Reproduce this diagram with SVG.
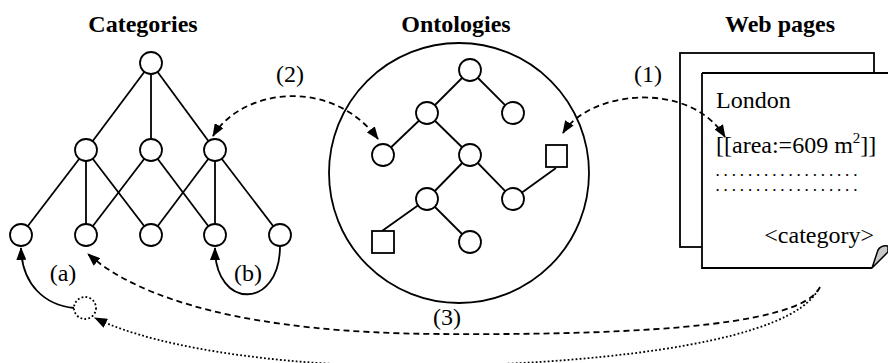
<svg xmlns="http://www.w3.org/2000/svg" width="888" height="363" viewBox="0 0 888 363">
<style>
text{font-family:"Liberation Serif","Times New Roman",serif;fill:#000}
.t{font-size:24px;font-weight:bold;text-anchor:middle}
.l{font-size:24px}
.dots{font-size:13px;font-weight:bold;letter-spacing:4.85px}
.n{fill:#fff;stroke:#000;stroke-width:1.8}
.e{stroke:#000;stroke-width:1.8;fill:none}
.c{fill:none;stroke:#000;stroke-width:1.8}
.dash{stroke-dasharray:6 4}
.dot{stroke-dasharray:1.8 2.2}
</style>
<defs>
<marker id="ah" viewBox="0 0 13 10" refX="12" refY="5" markerWidth="13" markerHeight="10" markerUnits="userSpaceOnUse" orient="auto-start-reverse">
<path d="M0,0 L13,5 L0,10 z" fill="#000"/>
</marker>
</defs>
<rect width="888" height="363" fill="#fff"/>
<text class="t" x="143" y="32">Categories</text>
<text class="t" x="456" y="32">Ontologies</text>
<text class="t" x="780" y="32">Web pages</text>

<g id="categories">
<g class="e">
<line x1="151" y1="63" x2="86" y2="150"/>
<line x1="151" y1="63" x2="151" y2="150"/>
<line x1="151" y1="63" x2="215" y2="150"/>
<line x1="86" y1="150" x2="21" y2="235"/>
<line x1="86" y1="150" x2="86" y2="235"/>
<line x1="86" y1="150" x2="151" y2="235"/>
<line x1="151" y1="150" x2="86" y2="235"/>
<line x1="151" y1="150" x2="215" y2="235"/>
<line x1="215" y1="150" x2="151" y2="235"/>
<line x1="215" y1="150" x2="215" y2="235"/>
<line x1="215" y1="150" x2="280" y2="235"/>
</g>
<g id="cat-top"><circle class="n" cx="151" cy="63" r="11"/></g>
<g id="cat-m1"><circle class="n" cx="86" cy="150" r="11"/></g>
<g id="cat-m2"><circle class="n" cx="151" cy="150" r="11"/></g>
<g id="cat-m3"><circle class="n" cx="215" cy="150" r="11"/></g>
<g id="cat-b1"><circle class="n" cx="21" cy="235" r="11"/></g>
<g id="cat-b2"><circle class="n" cx="86" cy="235" r="11"/></g>
<g id="cat-b3"><circle class="n" cx="151" cy="235" r="11"/></g>
<g id="cat-b4"><circle class="n" cx="215" cy="235" r="11"/></g>
<g id="cat-b5"><circle class="n" cx="280" cy="235" r="11"/></g>
<g id="cat-new"><circle cx="85" cy="308" r="11" fill="none" stroke="#000" stroke-width="1.8" class="dot"/></g>
</g>

<g id="ontologies">
<circle cx="459" cy="173" r="130" fill="none" stroke="#000" stroke-width="1.8"/>
<g class="e">
<line x1="470" y1="70" x2="427" y2="113"/>
<line x1="470" y1="70" x2="513" y2="113"/>
<line x1="427" y1="113" x2="383" y2="155"/>
<line x1="427" y1="113" x2="470" y2="155"/>
<line x1="470" y1="155" x2="427" y2="199"/>
<line x1="470" y1="155" x2="513" y2="199"/>
<line x1="513" y1="199" x2="556" y2="168"/>
<line x1="427" y1="199" x2="382" y2="231"/>
<line x1="427" y1="199" x2="470" y2="242"/>
</g>
<g id="ont-1"><circle class="n" cx="470" cy="70" r="11"/></g>
<g id="ont-2"><circle class="n" cx="427" cy="113" r="11"/></g>
<g id="ont-3"><circle class="n" cx="513" cy="113" r="11"/></g>
<g id="ont-4"><circle class="n" cx="383" cy="155" r="11"/></g>
<g id="ont-5"><circle class="n" cx="470" cy="155" r="11"/></g>
<g id="ont-6"><rect class="n" x="546" y="145" width="21" height="22"/></g>
<g id="ont-7"><circle class="n" cx="427" cy="199" r="11"/></g>
<g id="ont-8"><circle class="n" cx="513" cy="199" r="11"/></g>
<g id="ont-9"><rect class="n" x="372" y="231" width="22" height="22"/></g>
<g id="ont-10"><circle class="n" cx="470" cy="242" r="11"/></g>
</g>

<g id="webpages">
<rect x="680" y="53" width="194" height="194" fill="#fff" stroke="#000" stroke-width="1.8"/>
<rect x="702" y="73" width="188" height="195" fill="#fff"/>
<path d="M702,73 H890 M702,73 V268 H872" fill="none" stroke="#000" stroke-width="1.8"/>
<path d="M872,268 L878,250 Q881,245 888,246 L888,252 Z" fill="#c8c8c8" stroke="#000" stroke-width="1.5" stroke-linejoin="round"/>
<text class="l" x="716" y="108">London</text>
<text class="l" x="716" y="153">[[area:=609 m<tspan font-size="15" dy="-10">2</tspan><tspan dy="10">]]</tspan></text>
<text class="dots" x="716" y="176">..................</text>
<text class="dots" x="716" y="191">..................</text>
<text class="l" x="874" y="243" text-anchor="end">&lt;category&gt;</text>
</g>

<g id="connectors">
<path class="c dash" d="M213,136 C240,90 330,75 378,139" marker-start="url(#ah)" marker-end="url(#ah)"/>
<path class="c dash" d="M563,133 C590,90 690,80 725,137" marker-start="url(#ah)" marker-end="url(#ah)"/>
<path class="c dash" d="M820,287 C800,330 600,335 440,334 C250,333 140,300 88,254" marker-end="url(#ah)"/>
<path class="c dot" d="M818,290 C790,340 620,362 445,366 C300,369 160,350 95,318" marker-end="url(#ah)"/>
<path class="c" d="M74,308 C45,305 22,285 21,248" marker-end="url(#ah)"/>
<path class="c" d="M280,246 C280,310 215,310 215,248" marker-end="url(#ah)"/>
</g>
<g id="labels">
<text class="l" x="290" y="82" text-anchor="middle">(2)</text>
<text class="l" x="648" y="82" text-anchor="middle">(1)</text>
<text class="l" x="447" y="325" text-anchor="middle">(3)</text>
<text class="l" x="63" y="281" text-anchor="middle">(a)</text>
<text class="l" x="248" y="281" text-anchor="middle">(b)</text>
</g>
</svg>
